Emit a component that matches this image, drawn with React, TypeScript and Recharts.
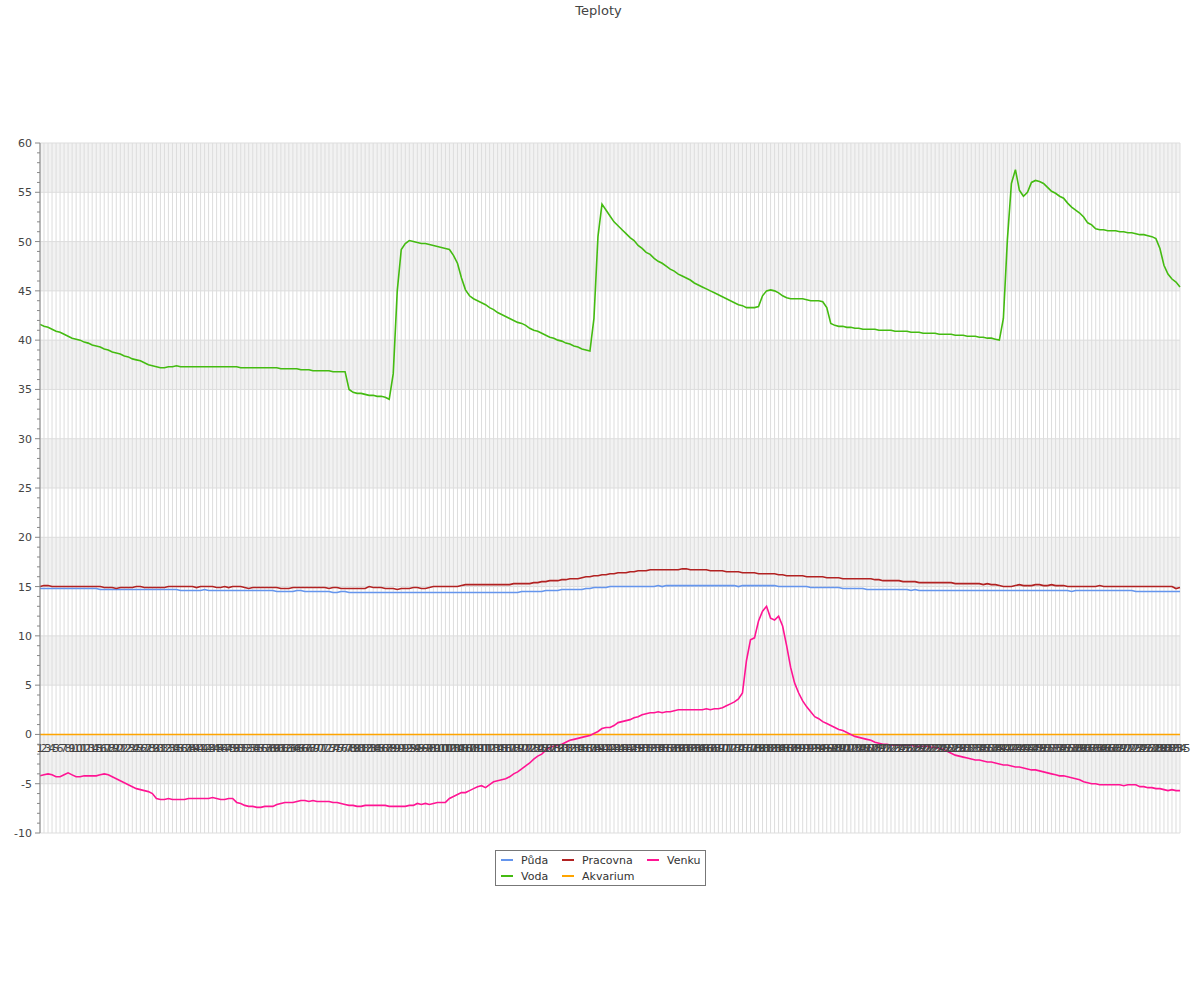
import { LineChart, Line, XAxis, YAxis, CartesianGrid } from "recharts";

// categories are just the sample numbers 1..285
const categories = Array.from({ length: 285 }, (_, i) => String(i + 1));

const puda = [
  14.8, 14.8, 14.8, 14.8, 14.8, 14.8, 14.8, 14.8, 14.8, 14.8,
  14.8, 14.8, 14.8, 14.8, 14.8, 14.7, 14.7, 14.7, 14.7, 14.7,
  14.7, 14.7, 14.7, 14.7, 14.7, 14.7, 14.7, 14.7, 14.7, 14.7,
  14.7, 14.7, 14.7, 14.7, 14.7, 14.6, 14.6, 14.6, 14.6, 14.6,
  14.6, 14.7, 14.6, 14.6, 14.6, 14.6, 14.6, 14.6, 14.6, 14.6,
  14.6, 14.6, 14.6, 14.6, 14.6, 14.6, 14.6, 14.6, 14.6, 14.5,
  14.5, 14.5, 14.5, 14.5, 14.6, 14.6, 14.5, 14.5, 14.5, 14.5,
  14.5, 14.5, 14.5, 14.4, 14.4, 14.5, 14.5, 14.4, 14.4, 14.4,
  14.4, 14.4, 14.4, 14.4, 14.4, 14.4, 14.4, 14.4, 14.4, 14.4,
  14.4, 14.4, 14.4, 14.4, 14.4, 14.4, 14.4, 14.4, 14.4, 14.4,
  14.4, 14.4, 14.4, 14.4, 14.4, 14.4, 14.4, 14.4, 14.4, 14.4,
  14.4, 14.4, 14.4, 14.4, 14.4, 14.4, 14.4, 14.4, 14.4, 14.4,
  14.5, 14.5, 14.5, 14.5, 14.5, 14.5, 14.6, 14.6, 14.6, 14.6,
  14.7, 14.7, 14.7, 14.7, 14.7, 14.7, 14.8, 14.8, 14.9, 14.9,
  14.9, 14.9, 15.0, 15.0, 15.0, 15.0, 15.0, 15.0, 15.0, 15.0,
  15.0, 15.0, 15.0, 15.0, 15.1, 15.0, 15.1, 15.1, 15.1, 15.1,
  15.1, 15.1, 15.1, 15.1, 15.1, 15.1, 15.1, 15.1, 15.1, 15.1,
  15.1, 15.1, 15.1, 15.1, 15.0, 15.1, 15.1, 15.1, 15.1, 15.1,
  15.1, 15.1, 15.1, 15.1, 15.0, 15.0, 15.0, 15.0, 15.0, 15.0,
  15.0, 15.0, 14.9, 14.9, 14.9, 14.9, 14.9, 14.9, 14.9, 14.9,
  14.8, 14.8, 14.8, 14.8, 14.8, 14.8, 14.7, 14.7, 14.7, 14.7,
  14.7, 14.7, 14.7, 14.7, 14.7, 14.7, 14.7, 14.6, 14.7, 14.6,
  14.6, 14.6, 14.6, 14.6, 14.6, 14.6, 14.6, 14.6, 14.6, 14.6,
  14.6, 14.6, 14.6, 14.6, 14.6, 14.6, 14.6, 14.6, 14.6, 14.6,
  14.6, 14.6, 14.6, 14.6, 14.6, 14.6, 14.6, 14.6, 14.6, 14.6,
  14.6, 14.6, 14.6, 14.6, 14.6, 14.6, 14.6, 14.5, 14.6, 14.6,
  14.6, 14.6, 14.6, 14.6, 14.6, 14.6, 14.6, 14.6, 14.6, 14.6,
  14.6, 14.6, 14.6, 14.5, 14.5, 14.5, 14.5, 14.5, 14.5, 14.5,
  14.5, 14.5, 14.5, 14.5, 14.5,
];

const voda = [
  41.6, 41.4, 41.3, 41.1, 40.9, 40.8, 40.6, 40.4, 40.2, 40.1,
  40.0, 39.8, 39.7, 39.5, 39.4, 39.3, 39.1, 39.0, 38.8, 38.7,
  38.6, 38.4, 38.3, 38.1, 38.0, 37.9, 37.7, 37.5, 37.4, 37.3,
  37.2, 37.2, 37.3, 37.3, 37.4, 37.3, 37.3, 37.3, 37.3, 37.3,
  37.3, 37.3, 37.3, 37.3, 37.3, 37.3, 37.3, 37.3, 37.3, 37.3,
  37.2, 37.2, 37.2, 37.2, 37.2, 37.2, 37.2, 37.2, 37.2, 37.2,
  37.1, 37.1, 37.1, 37.1, 37.1, 37.0, 37.0, 37.0, 36.9, 36.9,
  36.9, 36.9, 36.9, 36.8, 36.8, 36.8, 36.8, 35.0, 34.7, 34.6,
  34.6, 34.5, 34.4, 34.4, 34.3, 34.3, 34.2, 34.0, 36.6, 45.0,
  49.2, 49.8, 50.1, 50.0, 49.9, 49.8, 49.8, 49.7, 49.6, 49.5,
  49.4, 49.3, 49.2, 48.6, 47.8, 46.3, 45.1, 44.5, 44.2, 44.0,
  43.8, 43.6, 43.3, 43.1, 42.8, 42.6, 42.4, 42.2, 42.0, 41.8,
  41.7, 41.5, 41.2, 41.0, 40.9, 40.7, 40.5, 40.3, 40.2, 40.0,
  39.9, 39.7, 39.6, 39.4, 39.3, 39.1, 39.0, 38.9, 42.2, 50.5,
  53.8, 53.2, 52.6, 52.0, 51.6, 51.2, 50.8, 50.4, 50.1, 49.6,
  49.3, 48.9, 48.7, 48.3, 48.0, 47.8, 47.5, 47.2, 47.0, 46.7,
  46.5, 46.3, 46.1, 45.8, 45.6, 45.4, 45.2, 45.0, 44.8, 44.6,
  44.4, 44.2, 44.0, 43.8, 43.6, 43.5, 43.3, 43.3, 43.3, 43.4,
  44.5, 45.0, 45.1, 45.0, 44.8, 44.5, 44.3, 44.2, 44.2, 44.2,
  44.2, 44.1, 44.0, 44.0, 44.0, 43.9, 43.3, 41.7, 41.5, 41.4,
  41.4, 41.3, 41.3, 41.2, 41.2, 41.1, 41.1, 41.1, 41.1, 41.0,
  41.0, 41.0, 41.0, 40.9, 40.9, 40.9, 40.9, 40.8, 40.8, 40.8,
  40.7, 40.7, 40.7, 40.7, 40.6, 40.6, 40.6, 40.6, 40.5, 40.5,
  40.5, 40.4, 40.4, 40.4, 40.3, 40.3, 40.2, 40.2, 40.1, 40.0,
  42.2, 50.2, 55.9, 57.3, 55.2, 54.6, 55.0, 56.0, 56.2, 56.1,
  55.9, 55.5, 55.1, 54.9, 54.6, 54.4, 53.9, 53.5, 53.2, 52.9,
  52.5, 51.9, 51.7, 51.3, 51.2, 51.2, 51.1, 51.1, 51.1, 51.0,
  51.0, 50.9, 50.9, 50.8, 50.7, 50.7, 50.6, 50.5, 50.3, 49.3,
  47.6, 46.7, 46.2, 45.9, 45.4,
];

const pracovna = [
  15.0, 15.1, 15.1, 15.0, 15.0, 15.0, 15.0, 15.0, 15.0, 15.0,
  15.0, 15.0, 15.0, 15.0, 15.0, 15.0, 14.9, 14.9, 14.9, 14.8,
  14.9, 14.9, 14.9, 14.9, 15.0, 15.0, 14.9, 14.9, 14.9, 14.9,
  14.9, 14.9, 15.0, 15.0, 15.0, 15.0, 15.0, 15.0, 15.0, 14.9,
  15.0, 15.0, 15.0, 15.0, 14.9, 14.9, 15.0, 14.9, 15.0, 15.0,
  15.0, 14.9, 14.8, 14.9, 14.9, 14.9, 14.9, 14.9, 14.9, 14.9,
  14.8, 14.8, 14.8, 14.9, 14.9, 14.9, 14.9, 14.9, 14.9, 14.9,
  14.9, 14.9, 14.8, 14.9, 14.9, 14.8, 14.8, 14.8, 14.8, 14.8,
  14.8, 14.8, 15.0, 14.9, 14.9, 14.9, 14.8, 14.8, 14.8, 14.7,
  14.8, 14.8, 14.8, 14.9, 14.9, 14.8, 14.8, 14.9, 15.0, 15.0,
  15.0, 15.0, 15.0, 15.0, 15.0, 15.1, 15.2, 15.2, 15.2, 15.2,
  15.2, 15.2, 15.2, 15.2, 15.2, 15.2, 15.2, 15.2, 15.3, 15.3,
  15.3, 15.3, 15.3, 15.4, 15.4, 15.5, 15.5, 15.6, 15.6, 15.6,
  15.7, 15.7, 15.8, 15.8, 15.8, 15.9, 16.0, 16.0, 16.1, 16.1,
  16.2, 16.2, 16.3, 16.3, 16.4, 16.4, 16.4, 16.5, 16.5, 16.6,
  16.6, 16.6, 16.7, 16.7, 16.7, 16.7, 16.7, 16.7, 16.7, 16.7,
  16.8, 16.8, 16.7, 16.7, 16.7, 16.7, 16.7, 16.6, 16.6, 16.6,
  16.6, 16.5, 16.5, 16.5, 16.5, 16.4, 16.4, 16.4, 16.4, 16.3,
  16.3, 16.3, 16.3, 16.3, 16.2, 16.2, 16.1, 16.1, 16.1, 16.1,
  16.1, 16.0, 16.0, 16.0, 16.0, 16.0, 15.9, 15.9, 15.9, 15.9,
  15.8, 15.8, 15.8, 15.8, 15.8, 15.8, 15.8, 15.8, 15.7, 15.7,
  15.6, 15.6, 15.6, 15.6, 15.6, 15.5, 15.5, 15.5, 15.5, 15.4,
  15.4, 15.4, 15.4, 15.4, 15.4, 15.4, 15.4, 15.4, 15.3, 15.3,
  15.3, 15.3, 15.3, 15.3, 15.3, 15.2, 15.3, 15.2, 15.2, 15.1,
  15.0, 15.0, 15.0, 15.1, 15.2, 15.1, 15.1, 15.1, 15.2, 15.2,
  15.1, 15.1, 15.2, 15.1, 15.1, 15.1, 15.0, 15.0, 15.0, 15.0,
  15.0, 15.0, 15.0, 15.0, 15.1, 15.0, 15.0, 15.0, 15.0, 15.0,
  15.0, 15.0, 15.0, 15.0, 15.0, 15.0, 15.0, 15.0, 15.0, 15.0,
  15.0, 15.0, 15.0, 14.8, 14.9,
];

const akvarium = [
  0, 0, 0, 0, 0, 0, 0, 0, 0, 0, 0, 0, 0, 0, 0, 0, 0, 0, 0, 0,
  0, 0, 0, 0, 0, 0, 0, 0, 0, 0, 0, 0, 0, 0, 0, 0, 0, 0, 0, 0,
  0, 0, 0, 0, 0, 0, 0, 0, 0, 0, 0, 0, 0, 0, 0, 0, 0, 0, 0, 0,
  0, 0, 0, 0, 0, 0, 0, 0, 0, 0, 0, 0, 0, 0, 0, 0, 0, 0, 0, 0,
  0, 0, 0, 0, 0, 0, 0, 0, 0, 0, 0, 0, 0, 0, 0, 0, 0, 0, 0, 0,
  0, 0, 0, 0, 0, 0, 0, 0, 0, 0, 0, 0, 0, 0, 0, 0, 0, 0, 0, 0,
  0, 0, 0, 0, 0, 0, 0, 0, 0, 0, 0, 0, 0, 0, 0, 0, 0, 0, 0, 0,
  0, 0, 0, 0, 0, 0, 0, 0, 0, 0, 0, 0, 0, 0, 0, 0, 0, 0, 0, 0,
  0, 0, 0, 0, 0, 0, 0, 0, 0, 0, 0, 0, 0, 0, 0, 0, 0, 0, 0, 0,
  0, 0, 0, 0, 0, 0, 0, 0, 0, 0, 0, 0, 0, 0, 0, 0, 0, 0, 0, 0,
  0, 0, 0, 0, 0, 0, 0, 0, 0, 0, 0, 0, 0, 0, 0, 0, 0, 0, 0, 0,
  0, 0, 0, 0, 0, 0, 0, 0, 0, 0, 0, 0, 0, 0, 0, 0, 0, 0, 0, 0,
  0, 0, 0, 0, 0, 0, 0, 0, 0, 0, 0, 0, 0, 0, 0, 0, 0, 0, 0, 0,
  0, 0, 0, 0, 0, 0, 0, 0, 0, 0, 0, 0, 0, 0, 0, 0, 0, 0, 0, 0,
  0, 0, 0, 0, 0,
];

const venku = [
  -4.2, -4.1, -4.0, -4.1, -4.3, -4.3, -4.1, -3.9, -4.1, -4.3,
  -4.3, -4.2, -4.2, -4.2, -4.2, -4.1, -4.0, -4.1, -4.3, -4.5,
  -4.7, -4.9, -5.1, -5.3, -5.5, -5.6, -5.7, -5.8, -6.0, -6.5,
  -6.6, -6.6, -6.5, -6.6, -6.6, -6.6, -6.6, -6.5, -6.5, -6.5,
  -6.5, -6.5, -6.5, -6.4, -6.5, -6.6, -6.6, -6.5, -6.5, -6.9,
  -7.0, -7.2, -7.3, -7.3, -7.4, -7.4, -7.3, -7.3, -7.3, -7.1,
  -7.0, -6.9, -6.9, -6.9, -6.8, -6.7, -6.7, -6.8, -6.7, -6.8,
  -6.8, -6.8, -6.8, -6.9, -6.9, -7.0, -7.1, -7.2, -7.2, -7.3,
  -7.3, -7.2, -7.2, -7.2, -7.2, -7.2, -7.2, -7.3, -7.3, -7.3,
  -7.3, -7.3, -7.2, -7.2, -7.0, -7.1, -7.0, -7.1, -7.0, -6.9,
  -6.9, -6.9, -6.5, -6.3, -6.1, -5.9, -5.9, -5.7, -5.5, -5.3,
  -5.2, -5.4, -5.1, -4.8, -4.7, -4.6, -4.5, -4.3, -4.0, -3.8,
  -3.5, -3.2, -2.9, -2.5, -2.2, -2.0, -1.6, -1.3, -1.2, -1.1,
  -1.0, -0.8, -0.6, -0.5, -0.4, -0.3, -0.2, -0.1, 0.1, 0.3,
  0.6, 0.7, 0.7, 0.9, 1.2, 1.3, 1.4, 1.5, 1.7, 1.8,
  2.0, 2.1, 2.2, 2.2, 2.3, 2.2, 2.3, 2.3, 2.4, 2.5,
  2.5, 2.5, 2.5, 2.5, 2.5, 2.5, 2.6, 2.5, 2.6, 2.6,
  2.7, 2.9, 3.1, 3.3, 3.6, 4.2, 7.5, 9.6, 9.8, 11.5,
  12.5, 13.0, 11.8, 11.6, 12.0, 11.0, 9.0, 6.8, 5.2, 4.2,
  3.4, 2.8, 2.3, 1.8, 1.6, 1.3, 1.1, 0.9, 0.7, 0.5,
  0.4, 0.2, 0.0, -0.2, -0.3, -0.4, -0.5, -0.6, -0.8, -0.9,
  -1.0, -1.0, -1.1, -1.1, -1.1, -1.1, -1.1, -1.1, -1.2, -1.2,
  -1.2, -1.2, -1.3, -1.3, -1.4, -1.5, -1.7, -1.9, -2.1, -2.2,
  -2.3, -2.4, -2.5, -2.6, -2.6, -2.7, -2.8, -2.8, -2.9, -3.0,
  -3.1, -3.1, -3.2, -3.3, -3.3, -3.4, -3.5, -3.6, -3.6, -3.7,
  -3.8, -3.9, -4.0, -4.1, -4.2, -4.2, -4.3, -4.4, -4.5, -4.6,
  -4.8, -4.9, -5.0, -5.0, -5.1, -5.1, -5.1, -5.1, -5.1, -5.1,
  -5.2, -5.1, -5.1, -5.1, -5.3, -5.3, -5.4, -5.4, -5.5, -5.5,
  -5.6, -5.7, -5.6, -5.7, -5.7,
];

const yTicks = [
  -10, -9, -8, -7, -6, -5, -4, -3, -2, -1, 0, 1, 2, 3, 4, 5, 6, 7, 8, 9,
  10, 11, 12, 13, 14, 15, 16, 17, 18, 19, 20, 21, 22, 23, 24, 25, 26, 27, 28, 29,
  30, 31, 32, 33, 34, 35, 36, 37, 38, 39, 40, 41, 42, 43, 44, 45, 46, 47, 48, 49,
  50, 51, 52, 53, 54, 55, 56, 57, 58, 59, 60,
];
const gridValues = [-10, -5, 0, 5, 10, 15, 20, 25, 30, 35, 40, 45, 50, 55, 60];

const series = [
  { key: "puda", name: "Půda", color: "#6495ed" },
  { key: "voda", name: "Voda", color: "#44bb11" },
  { key: "pracovna", name: "Pracovna", color: "#b22222" },
  { key: "akvarium", name: "Akvarium", color: "#ffa500" },
  { key: "venku", name: "Venku", color: "#ff1493" },
];

const data = categories.map((t, i) => ({
  t,
  puda: puda[i],
  voda: voda[i],
  pracovna: pracovna[i],
  akvarium: akvarium[i],
  venku: venku[i],
}));

const FONT = "DejaVu Sans, sans-serif";
const PLOT_TOP = 143;
const PLOT_HEIGHT = 690;
const Y_MIN = -10;
const Y_MAX = 60;
const ZERO_Y = PLOT_TOP + ((Y_MAX - 0) / (Y_MAX - Y_MIN)) * PLOT_HEIGHT;

function XTick(props: any) {
  const { x, payload } = props;
  return (
    <text x={x} y={ZERO_Y + 18} textAnchor="middle" fontSize={11} fill="#444" fontFamily={FONT}>
      {payload.value}
    </text>
  );
}

function YTick(props: any) {
  const { x, y, payload } = props;
  const major = payload.value % 5 === 0;
  return (
    <g>
      <line x1={x - (major ? 5 : 3)} x2={x} y1={y} y2={y} stroke="#888" />
      {major && (
        <text x={x - 8} y={y} dy={4} textAnchor="end" fontSize={11} fill="#444" fontFamily={FONT}>
          {payload.value}
        </text>
      )}
    </g>
  );
}

const legendRows = [
  [series[0], series[2], series[4]],
  [series[1], series[3]],
];

export default function App() {
  return (
    <div style={{ position: "absolute", left: 0, top: 0, width: 1200, height: 1000, background: "#fff" }}>
      <div style={{ position: "absolute", top: 3, width: 1197, textAlign: "center", fontFamily: FONT, fontSize: 13, color: "#444" }}>
        Teploty
      </div>
      <LineChart width={1200} height={1000} data={data} margin={{ top: PLOT_TOP, right: 20, bottom: 137, left: 0 }}>
        <CartesianGrid
          stroke="#dddddd"
          horizontalValues={gridValues}
          horizontalFill={["#f2f2f2", "#ffffff"]}
        />
        <XAxis dataKey="t" interval={0} tick={<XTick />} axisLine={false} tickLine={false} height={30} />
        <YAxis
          type="number"
          domain={[Y_MIN, Y_MAX]}
          ticks={yTicks}
          interval={0}
          width={40}
          tickSize={0}
          tickMargin={0}
          tickLine={false}
          axisLine={{ stroke: "#888" }}
          tick={<YTick />}
        />
        {series.map((s) => (
          <Line
            key={s.key}
            type="linear"
            dataKey={s.key}
            name={s.name}
            stroke={s.color}
            strokeWidth={1.6}
            dot={false}
            isAnimationActive={false}
          />
        ))}
      </LineChart>
      <div
        style={{
          position: "absolute", left: 495, top: 850, width: 209, height: 34,
          border: "1px solid #777", background: "#fff", fontFamily: FONT, fontSize: 11, color: "#333",
        }}
      >
        {legendRows.map((row, r) =>
          row.map((s, c) => (
            <div key={s.key} style={{ position: "absolute", left: [5, 66, 151][c], top: 2 + r * 16, height: 14, display: "flex", alignItems: "center" }}>
              <span style={{ display: "inline-block", width: 12, height: 2, background: s.color, marginRight: 8 }} />
              <span>{s.name}</span>
            </div>
          ))
        )}
      </div>
    </div>
  );
}
